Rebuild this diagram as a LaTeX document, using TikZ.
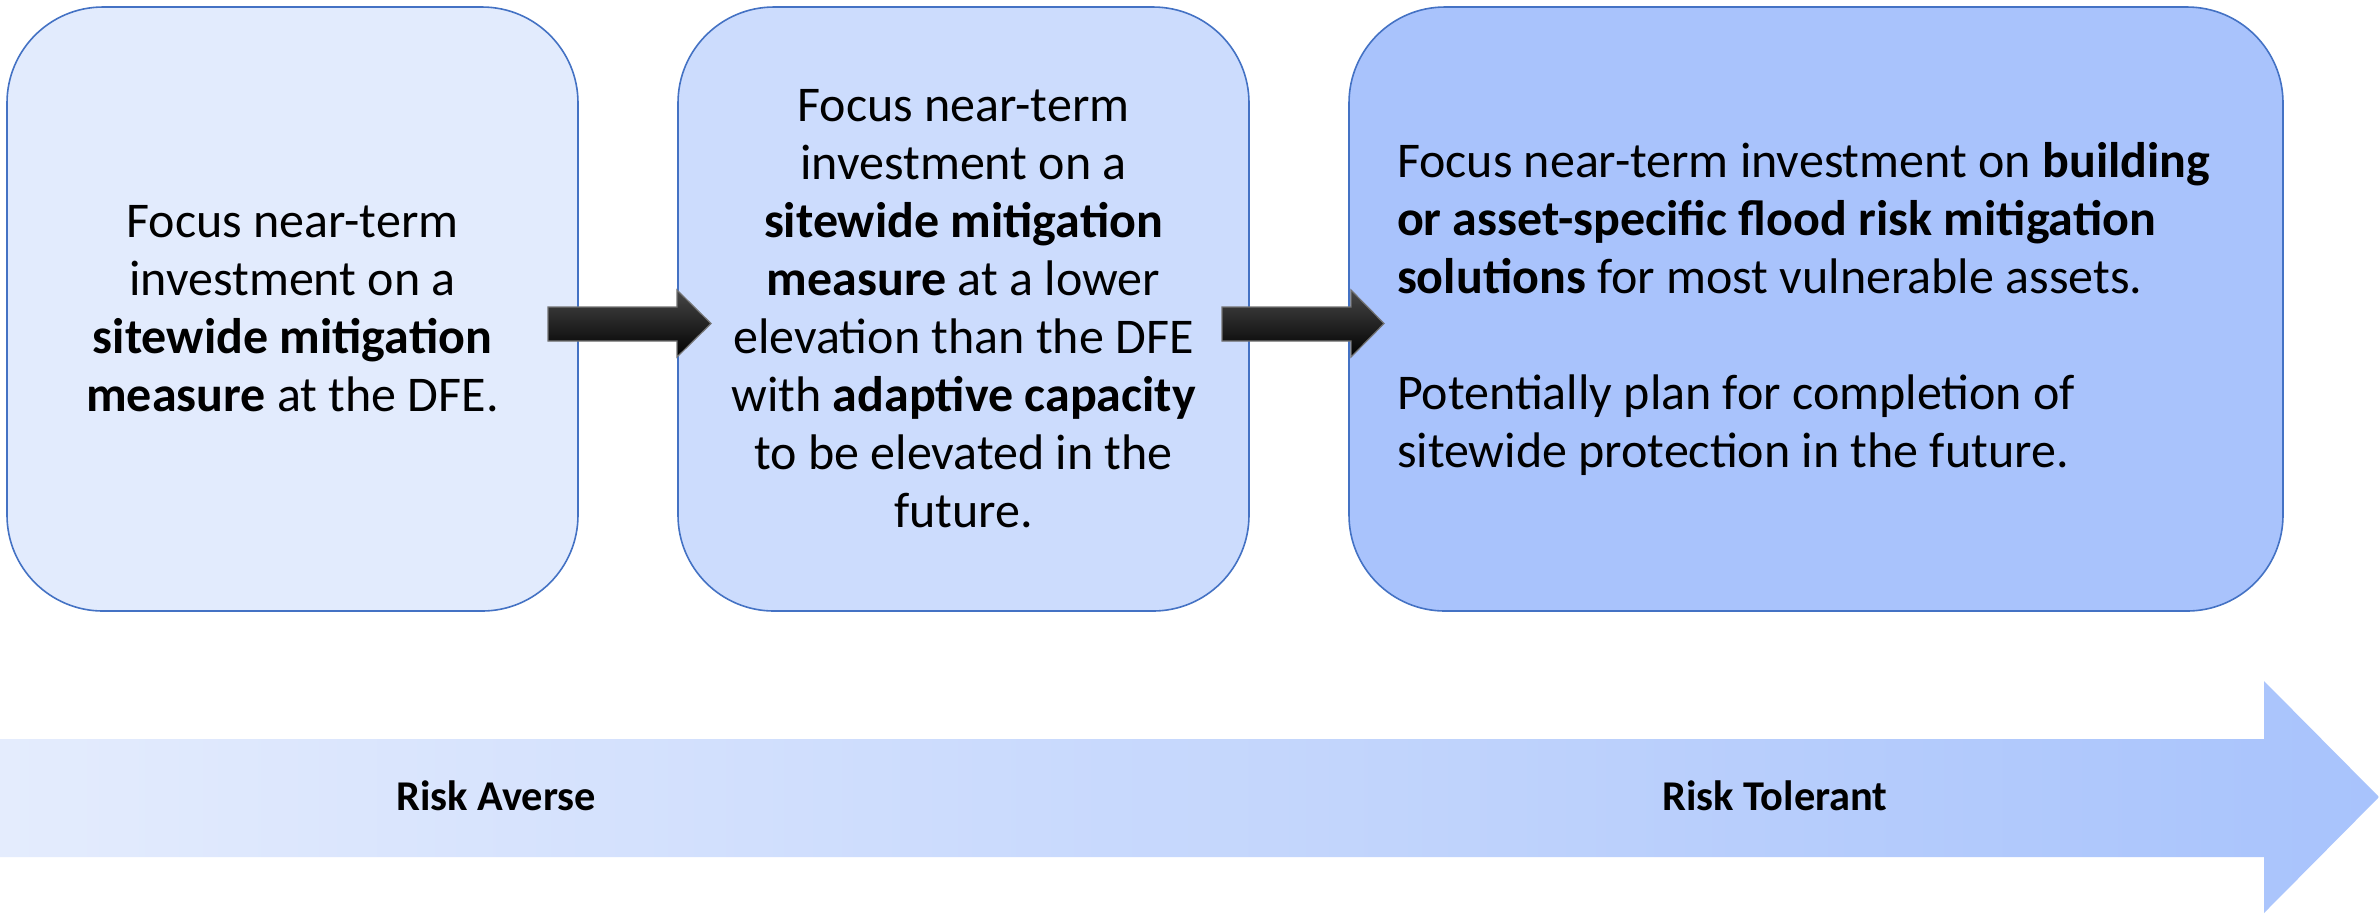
\documentclass[tikz,border=0pt]{standalone}
\usepackage{fontspec}
\setmainfont{Carlito}
\definecolor{boxA}{RGB}{226,235,253}
\definecolor{boxB}{RGB}{204,220,253}
\definecolor{boxC}{RGB}{169,195,252}
\definecolor{edgeblue}{RGB}{68,114,196}
\definecolor{arrL}{RGB}{228,236,253}
\definecolor{arrR}{RGB}{168,195,252}
\tikzset{
  stagebox/.style={draw=edgeblue, line width=0.4pt, rounded corners=24pt,
    minimum height=151pt, inner sep=0pt, font=\fontsize{12.5pt}{14.5pt}\selectfont},
  stagetext/.style={inner sep=0pt, font=\fontsize{12.5pt}{14.5pt}\selectfont},
  blockarrow/.style={top color=black!72, middle color=black, bottom color=black,
    draw=black!55, line width=0.3pt},
  risklabel/.style={font=\fontsize{10.6pt}{12pt}\selectfont\bfseries, inner sep=0pt}
}
\begin{document}
\begin{tikzpicture}[x=0.25pt,y=-0.25pt]
\useasboundingbox (0,0) rectangle (2379,914);
\fill[white] (0,0) rectangle (2379,914);

% big gradient arrow
\shade[left color=arrL, right color=arrR]
  (0,739) -- (2264,739) -- (2264,681) -- (2379,797) -- (2264,913) -- (2264,857) -- (0,857) -- cycle;
\node[risklabel] (averse) at (496,796) {Risk Averse};
\node[risklabel] (tolerant) at (1775,796) {Risk Tolerant};

% boxes
\node[stagebox, fill=boxA, minimum width=142.75pt, align=center] (b1) at (292.5,309)
  {Focus near-term\\investment on a\\\textbf{sitewide mitigation}\\\textbf{measure} at the DFE.};
\node[stagebox, fill=boxB, minimum width=142.75pt, align=center] (b2) at (963.5,309)
  {Focus near-term\\investment on a\\\textbf{sitewide mitigation}\\\textbf{measure} at a lower\\elevation than the DFE\\with \textbf{adaptive capacity}\\to be elevated in the\\future.};
\node[stagebox, fill=boxC, minimum width=233.5pt] (b3) at (1816,309) {};
\node[stagetext, align=left, anchor=west] (t3) at ([xshift=12pt]b3.west)
  {Focus near-term investment on \textbf{building}\\\textbf{or asset-specific flood risk mitigation}\\\textbf{solutions} for most vulnerable assets.\\[14.5pt]Potentially plan for completion of\\sitewide protection in the future.};

% small block arrows
\shade[blockarrow] (548,307) -- (677,307) -- (677,290) -- (711,323.5) -- (677,357) -- (677,341) -- (548,341) -- cycle;
\shade[blockarrow] (1222,307) -- (1351,307) -- (1351,290) -- (1384,323.5) -- (1351,357) -- (1351,341) -- (1222,341) -- cycle;
\end{tikzpicture}
\end{document}
